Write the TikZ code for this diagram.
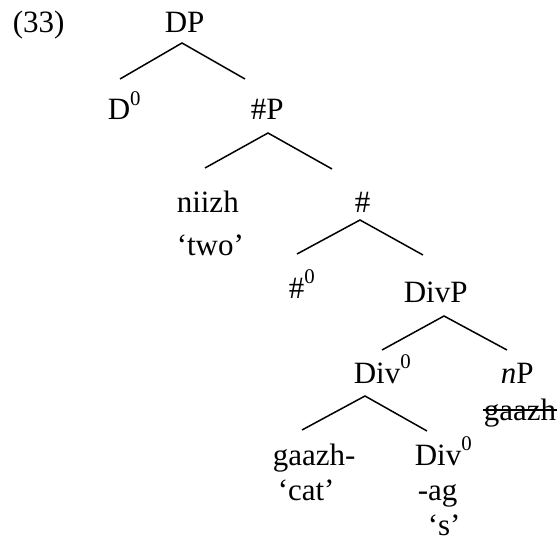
\documentclass[tikz,border=0pt]{standalone}
\usepackage{fontspec}
\setmainfont{Liberation Serif}
\newcommand{\zsup}{\raisebox{0.48em}{\fontsize{12.5}{12.5}\selectfont 0}}
\tikzset{lbl/.style={inner sep=0pt, anchor=base west, font=\fontsize{18.6}{22}\selectfont}}
\begin{document}
\begin{tikzpicture}[x=0.6pt, y=-0.6pt, line width=0.9pt]
			\useasboundingbox (0,0) rectangle (560,541);
			\node[lbl] (ex)    at (12,33)   {(33)};
			\node[lbl] (dp)    at (164,33)  {DP};
			\node[lbl] (d0)    at (107,120) {D\zsup};
			\node[lbl] (nump)  at (250,120) {\#P};
			\node[lbl] (niizh) at (176,213) {niizh};
			\node[lbl] (two)   at (176,255) {‘two’};
			\node[lbl] (num)   at (354,212) {\#};
			\node[lbl] (num0)  at (288,298) {\#\zsup};
			\node[lbl] (divp)  at (403,302) {DivP};
			\node[lbl] (div0)  at (353,383) {Div\zsup};
			\node[lbl] (np)    at (500,383) {\textit{n}P};
			\node[lbl] (gz)    at (483,420) {gaazh};
			\node[lbl] (gzh)   at (272,465) {gaazh-};
			\node[lbl] (cat)   at (277,500) {‘cat’};
			\node[lbl] (div0b) at (414,465) {Div\zsup};
			\node[lbl] (ag)    at (417,500) {-ag};
			\node[lbl] (s)     at (427,535) {‘s’};
			%
			\coordinate (dp-a)   at (182,43);  \coordinate (dp-l)   at (120,79);  \coordinate (dp-r)   at (245,79);
			\coordinate (nump-a) at (268,133); \coordinate (nump-l) at (205,168); \coordinate (nump-r) at (332,169);
			\coordinate (num-a)  at (360,220); \coordinate (num-l)  at (297,254); \coordinate (num-r)  at (423,255);
			\coordinate (divp-a) at (444,316); \coordinate (divp-l) at (382,350); \coordinate (divp-r) at (507,350);
			\coordinate (div0-a) at (365,396); \coordinate (div0-l) at (302,430); \coordinate (div0-r) at (427,431);
			\def\branches {dp, nump, num, divp, div0}  % branching nodes
			\foreach \b in \branches
			{	\draw (\b-l) -- (\b-a) -- (\b-r);
			}
			% deleted copy
			\draw ([yshift=6]gz.base west) -- ([yshift=6]gz.base east);
\end{tikzpicture}
\end{document}
